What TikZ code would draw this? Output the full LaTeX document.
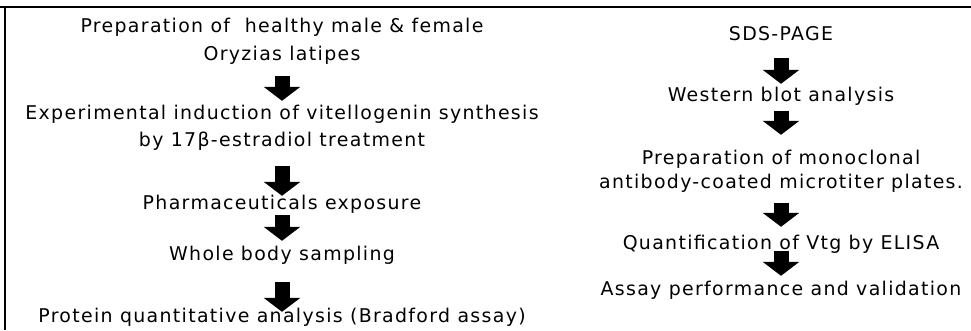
\documentclass[tikz,border=0pt]{standalone}
\usepackage{fontspec}
\setmainfont{DejaVu Sans}[LetterSpace=7]
\usepackage{tikz}
\usetikzlibrary{arrows.meta,positioning}
\tikzset{
  >={Triangle[width=36bp,length=14bp]},
  stage/.style={font=\fontsize{19}{22}\selectfont, inner sep=0pt, text height=13bp, text depth=4bp, anchor=base},
  fat/.style={->, line width=15bp},
  frame/.style={line width=2bp},
}

\begin{document}
\begin{tikzpicture}[x=1bp, y=1bp]
  \useasboundingbox (0,0) rectangle (971,-330);
  \draw[frame] (0,-7) -- (971,-7);
  \draw[frame] (5,-7) -- (5,-330);
  % left column
  \node[stage] (prep) at (282,-32) {Preparation of\ \ healthy male \& female};
  \node[stage] (oryz) at ([yshift=-28bp]prep.base) {Oryzias latipes};
  \node[stage] (induc) at (282,-119) {Experimental induction of vitellogenin synthesis};
  \node[stage] (estr) at ([yshift=-27bp]induc.base) {by 17β-estradiol treatment};
  \node[stage] (pharm) at (282,-209) {Pharmaceuticals exposure};
  \node[stage] (whole) at (282,-260) {Whole body sampling};
  \node[stage] (prot) at (282,-322) {Protein quantitative analysis (Bradford assay)};
  \draw[fat, shorten <=12bp, shorten >=5bp] (oryz) -- (induc);
  \draw[fat, shorten <=16bp] (estr) -- (pharm);
  \draw[fat, shorten <=2bp, shorten >=6bp] (pharm) -- (whole);
  \draw[fat, shorten <=18bp, shorten >=-3bp] (whole) -- (prot);
  % right column
  \node[stage] (sds) at (781,-40) {SDS-PAGE};
  \node[stage] (blot) at (781,-101) {Western blot analysis};
  \node[stage] (mono) at (781,-164) {Preparation of monoclonal};
  \node[stage] (coat) at ([yshift=-24bp]mono.base) {antibody-coated microtiter plates.};
  \node[stage] (elisa) at (781,-249) {Quantification of Vtg by ELISA};
  \node[stage] (valid) at (781,-295) {Assay performance and validation};
  \draw[fat, shorten <=14bp, shorten >=4bp] (sds) -- (blot);
  \draw[fat, shorten <=6bp, shorten >=16bp] (blot) -- (mono);
  \draw[fat, shorten <=11bp, shorten >=9bp] (coat) -- (elisa);
  \draw[fat, shorten <=-2bp, shorten >=6bp] (elisa) -- (valid);
\end{tikzpicture}
\end{document}
